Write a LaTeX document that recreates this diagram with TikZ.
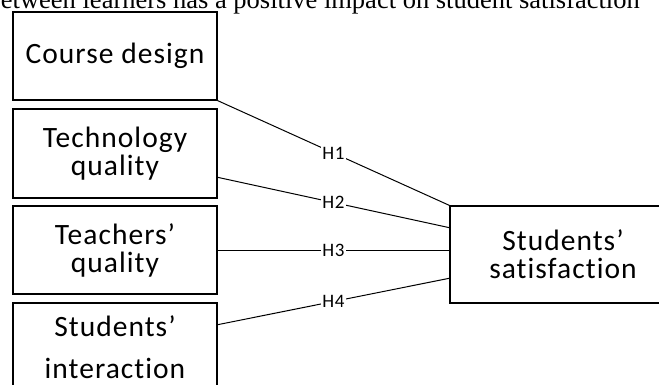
\documentclass[tikz,border=0pt]{standalone}
\usepackage{fontspec}
\newfontfamily\boxfont{Carlito}[LetterSpace=3.5,RawFeature=-liga]
\newfontfamily\topfont{Liberation Serif}
\usetikzlibrary{calc}
\begin{document}
\begin{tikzpicture}[x=1pt,y=-1pt,
 box/.style={draw, line width=1.2pt, minimum width=204pt, inner sep=0pt, align=center, font=\boxfont\fontsize{29.5}{28}\selectfont},
 link/.style={line width=1pt},
 hyp/.style={fill=white, inner sep=1pt, font=\boxfont\fontsize{19}{19}\selectfont}]
\useasboundingbox (0,0) rectangle (659,385);
\clip (0,0) rectangle (659,385);
\node[anchor=base west, font=\topfont\fontsize{26.5}{30}\selectfont, inner sep=0pt] (cap) at (-12.5,8.5) {between learners has a positive impact on student satisfaction};
\node[box, minimum height=88pt] (cd) at (115,56) {Course design};
\node[box, minimum height=89pt] (tq) at (115,153.5) {Technology\\quality};
\node[box, minimum height=88pt] (teq) at (115,250) {Teachers’\\quality};
\node[box, minimum height=88pt, font=\boxfont\fontsize{29.5}{42}\selectfont] (si) at (115,347) {Students’\\interaction};
\node[box, minimum width=226pt, minimum height=97pt] (ss) at (563,254.5) {Students’\\satisfaction};
\draw[link] (cd.south east) -- node[hyp]{H1} (ss.north west);
\draw[link] ($(tq.north east)!0.764!(tq.south east)$) -- node[hyp]{H2} ($(ss.north west)!0.227!(ss.south west)$);
\draw[link] (teq.east) -- node[hyp]{H3} (ss.west |- teq.east);
\draw[link] ($(si.north east)!0.25!(si.south east)$) -- node[hyp]{H4} ($(ss.north west)!0.742!(ss.south west)$);
\end{tikzpicture}
\end{document}
